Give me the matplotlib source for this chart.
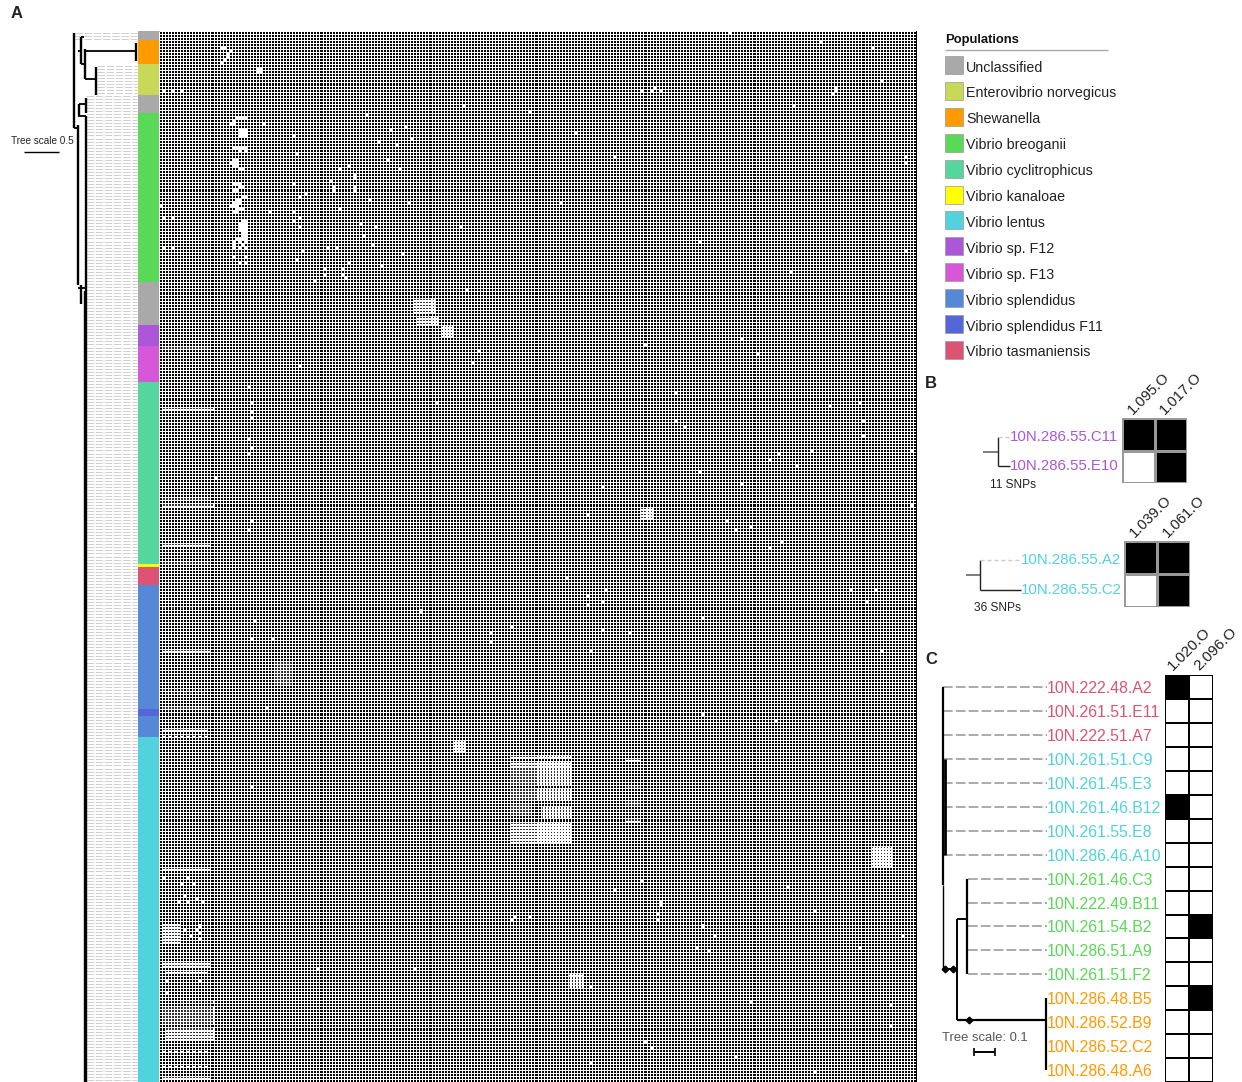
import matplotlib
matplotlib.use('Agg')
import matplotlib.pyplot as plt
from matplotlib.colors import ListedColormap
from matplotlib.patches import Rectangle
import numpy as np

plt.rcParams['font.family'] = ['Liberation Sans', 'DejaVu Sans']

W, H = 1242, 1082
n_rows, n_cols = 347, 250

# populations, in legend order
legend_names = ['Unclassified', 'Enterovibrio norvegicus', 'Shewanella', 'Vibrio breoganii',
                'Vibrio cyclitrophicus', 'Vibrio kanaloae', 'Vibrio lentus', 'Vibrio sp. F12',
                'Vibrio sp. F13', 'Vibrio splendidus', 'Vibrio splendidus F11', 'Vibrio tasmaniensis']
legend_colors = ['#a9a9a9', '#c8d957', '#ff9a00', '#5ad858', '#54d69c', '#ffff00',
                 '#52d2dc', '#ab57d8', '#d657d8', '#5688d8', '#5467d8', '#dc5474']

# colour strip: population and number of strains, top to bottom
strip_pops = ['Unclassified', 'Shewanella', 'Enterovibrio norvegicus', 'Unclassified',
              'Vibrio breoganii', 'Unclassified', 'Vibrio sp. F12', 'Vibrio sp. F13',
              'Vibrio cyclitrophicus', 'Vibrio kanaloae', 'Vibrio tasmaniensis',
              'Vibrio splendidus', 'Vibrio splendidus F11', 'Vibrio splendidus', 'Vibrio lentus']
strip_counts = [3, 8, 10, 6, 56, 14, 7, 12, 60, 1, 6, 41, 2, 7, 114]

# absent genes: blocks (col0, col1, row0, row1) inclusive
absent_blocks = [(116, 135, 241, 248), (116, 135, 250, 253), (116, 135, 261, 267),
                 (116, 122, 255, 258), (126, 135, 256, 259),
                 (154, 158, 254, 255), (38, 43, 208, 215), (235, 241, 269, 275),
                 (84, 90, 88, 92), (85, 91, 94, 96), (93, 96, 97, 100), (159, 162, 157, 160),
                 (97, 100, 234, 237), (135, 139, 311, 315), (1, 6, 295, 300),
                 (1, 17, 322, 327), (2, 17, 329, 332), (1, 16, 307, 308)]

# absent genes: long streaks (row, col0, col1, step)
absent_streaks = [(104, 1, 16, 1), (124, 1, 17, 1), (154, 1, 16, 1), (156, 1, 17, 1),
                  (169, 1, 16, 1), (175, 1, 16, 1), (204, 1, 16, 1), (217, 1, 16, 2),
                  (218, 2, 15, 2), (223, 1, 16, 1), (230, 1, 15, 1), (232, 1, 15, 2),
                  (276, 1, 16, 1), (310, 2, 15, 1), (320, 7, 17, 2), (336, 1, 15, 2),
                  (341, 1, 15, 2), (345, 1, 16, 1), (239, 116, 135, 1), (240, 154, 158, 1),
                  (249, 154, 158, 1), (260, 154, 158, 1), (190, 1, 14, 3)]

# absent genes: the breoganii cluster column (row, col0, col1, step)
cluster_streaks = [(28, 25, 28, 1), (29, 24, 24, 1), (30, 23, 24, 1), (32, 26, 28, 1),
                   (33, 26, 28, 1), (34, 26, 28, 1), (38, 24, 28, 1), (39, 26, 28, 2),
                   (42, 24, 25, 1), (43, 23, 25, 1), (44, 24, 25, 1), (45, 26, 27, 1),
                   (50, 24, 26, 1), (51, 26, 27, 1), (52, 24, 25, 1), (54, 27, 28, 1),
                   (55, 25, 26, 1), (56, 24, 26, 1), (57, 23, 25, 1), (58, 25, 27, 1),
                   (59, 24, 25, 1), (62, 27, 28, 1), (63, 26, 28, 1), (64, 26, 28, 1),
                   (65, 26, 28, 1), (66, 27, 28, 1), (67, 27, 28, 1), (68, 25, 28, 1),
                   (69, 24, 28, 2), (70, 24, 27, 3), (71, 24, 28, 2), (74, 24, 28, 4),
                   (76, 26, 28, 2)]

# absent genes: single cells (col, row)
absent_cells = [(20, 5), (21, 5), (23, 6), (22, 7), (22, 8), (21, 9), (20, 10), (32, 12), (33, 12),
                (32, 13), (33, 13), (1, 19), (4, 19), (7, 19), (159, 19), (162, 19), (165, 19),
                (163, 18), (223, 18), (223, 19), (222, 20), (209, 24), (100, 24), (238, 16),
                (235, 5), (218, 3), (188, 0), (246, 41), (246, 43),
                (68, 27), (34, 30), (81, 31), (76, 32), (44, 34), (83, 35), (72, 36), (78, 37),
                (45, 40), (75, 42), (79, 45), (62, 44), (59, 45), (64, 47), (64, 48), (56, 49),
                (57, 51), (57, 52), (64, 51), (64, 52), (44, 50), (48, 53), (46, 54), (69, 55),
                (82, 56), (0, 57), (59, 58), (36, 59), (44, 59), (46, 61), (44, 62), (66, 63),
                (71, 64), (46, 64), (67, 67), (70, 70), (47, 72), (55, 71), (58, 71), (1, 71),
                (4, 71), (1, 61), (4, 61), (45, 75), (80, 73), (62, 76), (73, 77), (54, 78),
                (54, 80), (51, 82), (60, 78), (60, 80), (61, 81),
                (122, 26), (150, 41), (99, 64), (178, 69), (137, 33), (208, 79), (132, 56), (246, 72),
                (101, 85), (160, 103), (192, 101), (197, 106), (105, 105), (103, 109), (46, 110),
                (91, 122), (170, 119), (221, 123), (231, 122), (232, 128), (232, 133), (170, 128),
                (173, 130), (204, 139), (201, 141), (210, 143), (215, 138), (192, 149), (178, 145),
                (30, 122), (30, 125), (30, 127), (29, 117), (29, 134), (30, 137), (29, 139),
                (30, 161), (29, 164), (18, 147), (187, 161), (195, 163), (190, 164), (205, 168),
                (201, 170), (248, 138), (248, 156), (141, 159), (146, 150),
                (141, 186), (141, 189), (146, 188), (147, 184), (134, 180), (233, 188), (228, 184),
                (236, 184), (31, 194), (30, 200), (37, 200), (109, 201), (109, 198), (116, 196),
                (146, 197), (155, 198), (86, 191), (179, 193), (238, 204), (179, 225), (203, 227),
                (35, 223), (142, 204), (30, 249),
                (117, 292), (122, 292), (116, 293), (165, 287), (164, 291), (165, 288), (164, 293),
                (179, 295), (183, 298), (177, 302), (181, 303), (150, 283), (159, 280), (142, 315),
                (52, 309), (84, 309), (207, 282), (216, 290), (231, 302), (245, 298), (160, 333),
                (162, 335), (142, 340), (216, 343), (241, 321), (241, 328), (195, 320), (190, 338),
                (1, 279), (9, 279), (7, 281), (11, 281), (8, 285), (6, 287), (9, 287), (12, 286),
                (14, 287), (8, 296), (10, 298), (12, 296), (13, 299), (13, 297), (13, 295),
                (2, 313), (13, 313), (2, 317)]

# panel B
b_labels = [['10N.286.55.C11', '10N.286.55.E10'], ['10N.286.55.A2', '10N.286.55.C2']]
b_orfs = [['1.095.O', '1.017.O'], ['1.039.O', '1.061.O']]
b_values = [[[1, 1], [0, 1]], [[1, 1], [0, 1]]]
b_snps = ['11 SNPs', '36 SNPs']

# panel C
c_labels = ['10N.222.48.A2', '10N.261.51.E11', '10N.222.51.A7', '10N.261.51.C9', '10N.261.45.E3',
            '10N.261.46.B12', '10N.261.55.E8', '10N.286.46.A10', '10N.261.46.C3', '10N.222.49.B11',
            '10N.261.54.B2', '10N.286.51.A9', '10N.261.51.F2', '10N.286.48.B5', '10N.286.52.B9',
            '10N.286.52.C2', '10N.286.48.A6']
c_pops = ['Vibrio tasmaniensis'] * 3 + ['Vibrio lentus'] * 5 + ['Vibrio breoganii'] * 5 + ['Shewanella'] * 4
c_orfs = ['1.020.O', '2.096.O']
c_col0 = [1, 0, 0, 0, 0, 1, 0, 0, 0, 0, 0, 0, 0, 0, 0, 0, 0]
c_col1 = [0, 0, 0, 0, 0, 0, 0, 0, 0, 0, 1, 0, 0, 1, 0, 0, 0]

pop_color = dict(zip(legend_names, legend_colors))
bw = ListedColormap(['black', 'white'])
rev = ListedColormap(['white', 'black'])


def px_axes(x0, x1, y0, y1):
    return fig.add_axes([x0 / W, 1 - y1 / H, (x1 - x0) / W, (y1 - y0) / H])


fig = plt.figure(figsize=(W / 100, H / 100), dpi=100)

# heatmap, dotted marks only on the large patches
absent = np.zeros((n_rows, n_cols))
dotted = np.zeros((n_rows, n_cols), dtype=bool)
for c0, c1, r0, r1 in absent_blocks:
    absent[r0:r1 + 1, c0:c1 + 1] = 1
    dotted[r0:r1 + 1, c0:c1 + 1] = True
for r, c0, c1, step in absent_streaks:
    absent[r, c0:c1 + 1:step] = 1
    dotted[r, c0:c1 + 1:step] = True
for r, c0, c1, step in cluster_streaks:
    absent[r, c0:c1 + 1:step] = 1
for c, r in absent_cells:
    absent[r, c] = 1

ax = px_axes(159, 916, 31, 1082)
ax.imshow(absent, cmap=bw, vmin=0, vmax=1, aspect='auto', interpolation='nearest',
          extent=(0, n_cols, n_rows, 0))
ax.vlines(np.arange(n_cols + 1), 0, n_rows, color='white', lw=0.72, snap=True)
ax.hlines(np.arange(n_rows + 1), 0, n_cols, color='white', lw=0.72, snap=True)
rr, cc = np.nonzero(dotted)
ax.scatter(cc + 0.5, rr + 0.5, s=1.0, marker='s', color='#333333', linewidths=0)
ax.set_xlim(0, n_cols)
ax.set_ylim(n_rows, 0)
ax.axis('off')

# colour strip
ax = px_axes(138, 159, 31, 1082)
starts = np.cumsum([0] + strip_counts[:-1])
ax.barh(starts, [1] * len(starts), height=strip_counts, align='edge',
        color=[pop_color[p] for p in strip_pops])
ax.set_xlim(0, 1)
ax.set_ylim(n_rows, 0)
ax.axis('off')

# tree of panel A, x is pixels from the left of this axes, y is strain row
ax = px_axes(70, 138, 31, 1082)
ax.set_xlim(0, 68)
ax.set_ylim(n_rows, 0)
ax.axis('off')
tips = np.arange(n_rows) + 0.5
tip_x = np.where(tips < 3, 5, np.where(tips < 11, 67, np.where(tips < 21, 27, 16)))
ax.hlines(tips, tip_x, 67, color='#c8c8c8', lw=0.6, linestyles=(0, (9, 2)))
tree_v = [(4, 0.5, 32), (8, 31, 84), (11, 2, 11), (15, 6, 16), (66, 4, 10), (26, 12, 21),
          (9, 24, 28), (16, 22, 27), (16, 28, 347), (11, 84, 90), (15, 86, 347)]
tree_h = [(4, 8, 32), (11, 14, 2), (8, 11, 6.5), (11, 15, 11), (15, 66, 6.5), (15, 26, 16),
          (9, 16, 24), (8, 16, 28), (8, 15, 85)]
for x, y0, y1 in tree_v:
    ax.vlines(x, y0, y1, color='black', lw=1.7)
for x0, x1, y in tree_h:
    ax.hlines(y, x0, x1, color='black', lw=1.3)

# overlay in figure pixels for text and the small panels
ov = fig.add_axes([0, 0, 1, 1], zorder=5)
ov.set_xlim(0, W)
ov.set_ylim(H, 0)
ov.axis('off')

for letter, x, y in [('A', 11, 13), ('B', 925, 383), ('C', 925, 659)]:
    ov.text(x, y, letter, fontsize=12, fontweight='bold', color='#222222', ha='left', va='center')

ov.text(11, 141, 'Tree scale 0.5', fontsize=7.2, color='#222222', va='center')
ov.hlines(152, 24, 59, color='black', lw=1)

# legend
ov.text(945, 39.5, 'Populations', fontsize=9.4, fontweight='bold', color='#111111', va='center')
ov.hlines(50, 945, 1108, color='#aaaaaa', lw=1)
for i, (name, col) in enumerate(zip(legend_names, legend_colors)):
    yc = 65 + 25.9 * i
    ov.add_patch(Rectangle((945, yc - 9), 18, 18, facecolor=col, edgecolor='#999999', lw=0.5))
    ov.text(966, yc + 2.5, name, fontsize=10.3, color='#222222', va='center')

# panel B
b_pos = [(1122, 418, 32.5), (1124, 541, 33)]
b_tree = [(983, 998, 1010, 437, 466), (966, 980, 1021, 560, 590)]
b_snp_xy = [(990, 485), (974, 608)]
b_colors = ['Vibrio sp. F12', 'Vibrio lentus']
for k in range(2):
    x0, y0, s = b_pos[k]
    a = px_axes(x0, x0 + 2 * s, y0, y0 + 2 * s)
    a.pcolormesh(np.array(b_values[k]), cmap=rev, vmin=0, vmax=1, edgecolors='#999999', linewidth=1)
    a.set_ylim(2, 0)
    a.axis('off')
    xr, xv, xt, y1, y2 = b_tree[k]
    ov.vlines(xv, y1, y2, color='#222222', lw=1)
    ov.hlines((y1 + y2) / 2, xr, xv, color='#666666', lw=1.2)
    ov.hlines(y2, xv, xt, color='#222222', lw=1)
    ov.hlines(y1, xv, xt, color='#cccccc', lw=1, linestyles=(0, (3, 2)))
    for j in range(2):
        ov.text(xt, (y1, y2)[j], b_labels[k][j], fontsize=10.8,
                color=pop_color[b_colors[k]], va='center', ha='left')
        ov.text(x0 + s * j + 8, y0 - 6, b_orfs[k][j], fontsize=10.6, color='#222222',
                rotation=45, rotation_mode='anchor', ha='left', va='center')
    ov.text(b_snp_xy[k][0], b_snp_xy[k][1], b_snps[k], fontsize=8.6, color='#222222', va='center')

# panel C
c_top, c_step = 675, 23.95
a = px_axes(1165, 1213, c_top, H)
a.pcolormesh(np.array([c_col0, c_col1]).T, cmap=rev, vmin=0, vmax=1, edgecolors='black', linewidth=1.2)
a.set_xlim(0, 2)
a.set_ylim((H - c_top) / c_step, 0)
a.axis('off')
for j, name in enumerate(c_orfs):
    ov.text(1170 + 26 * j, 668, name, fontsize=11, color='#222222', rotation=45,
            rotation_mode='anchor', ha='left', va='center')
c_y = c_top + c_step * (np.arange(len(c_labels)) + 0.5)
for y, name, pop in zip(c_y, c_labels, c_pops):
    ov.text(1047, y + 1.5, name, fontsize=11.4, color=pop_color[pop], va='center', ha='left')
ov.hlines(c_y[:8], 943, 1047, color='#aaaaaa', lw=1.4, linestyles=(0, (5, 1.6)))
ov.hlines(c_y[8:13], 968, 1047, color='#aaaaaa', lw=1.4, linestyles=(0, (5, 1.6)))
ov.vlines(943, c_y[0], 885, color='black', lw=1.6)
ov.vlines(945, c_y[3], 855, color='black', lw=2)
ov.vlines(943, 885, 969, color='black', lw=1)
ov.hlines(969, 943, 957, color='black', lw=1.4)
ov.vlines(957, 919, 1020, color='black', lw=1.4)
ov.hlines(919, 957, 967, color='black', lw=1.4)
ov.vlines(967, c_y[8], c_y[12], color='black', lw=1.6)
ov.hlines(1020, 957, 1046, color='black', lw=1.6)
ov.vlines(1046, c_y[13], c_y[16], color='black', lw=1.6)
ov.plot([945, 953, 969], [969, 969, 1020], 'D', color='black', ms=3.4)
ov.text(942, 1038, 'Tree scale: 0.1', fontsize=9.4, color='#555555', va='center')
ov.hlines(1052, 974, 995, color='black', lw=1.4)
ov.vlines([974, 995], 1048, 1056, color='black', lw=1.2)

fig.savefig('out.png', dpi=100)
